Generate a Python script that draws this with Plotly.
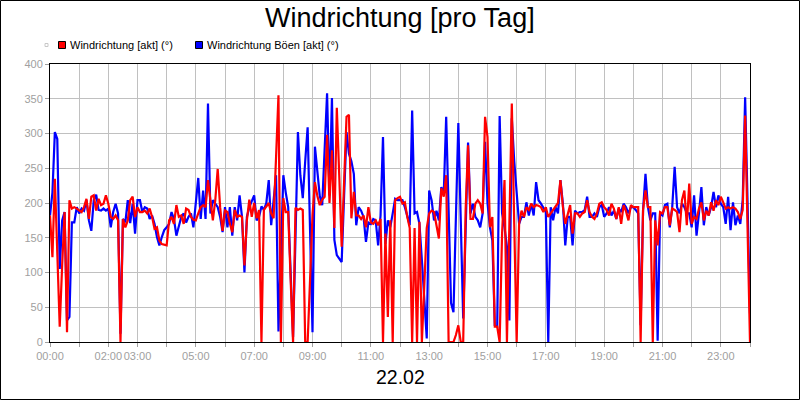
import plotly.graph_objects as go
import pandas as pd

# ---------------- data (5-minute values, 22.02 00:00 .. 24:00) ----------------
red_values = [
    182, 122, 235, 130, 22, 110, 187, 14, 204, 192, 194, 192,   # 00
    190, 187, 194, 206, 177, 209, 211, 189, 206, 197, 199, 211,  # 01
    199, 180, 177, 182, 175, 0, 177, 165, 175, 204, 209, 180,    # 02
    194, 187, 187, 189, 185, 192, 180, 163, 165, 146, 141, 140,  # 03
    139, 175, 180, 170, 197, 180, 182, 170, 192, 190, 180, 176,  # 04
    175, 185, 194, 197, 194, 233, 204, 175, 204, 249, 194, 160,  # 05
    189, 187, 170, 158, 190, 180, 182, 180, 110, 175, 205, 180,  # 06
    200, 178, 190, 0, 190, 195, 200, 185, 178, 265, 355, 0,      # 07
    207, 187, 187, 90, 0, 193, 190, 192, 190, 0, 0, 90,          # 08
    183, 230, 210, 197, 205, 209, 298, 200, 276, 164, 337, 240,  # 09
    137, 230, 324, 327, 178, 216, 182, 182, 177, 182, 165, 194,  # 10
    172, 170, 175, 168, 177, 0, 156, 36, 175, 0, 204, 207,       # 11
    209, 199, 201, 180, 164, 0, 164, 0, 173, 0, 90, 164,         # 12
    185, 189, 187, 170, 149, 221, 209, 240, 0, 0, 0, 10,         # 13
    24, 0, 0, 190, 283, 177, 177, 199, 204, 199, 185, 324,       # 14
    295, 165, 180, 22, 22, 0, 156, 233, 0, 170, 343, 170,        # 15
    0, 170, 189, 180, 194, 190, 199, 194, 197, 196, 194, 187,    # 16
    194, 180, 185, 190, 194, 200, 233, 195, 170, 185, 197, 156,  # 17
    185, 185, 180, 185, 187, 204, 187, 180, 177, 185, 199, 201,  # 18
    194, 190, 182, 199, 192, 177, 194, 170, 197, 188, 175, 197,  # 19
    194, 194, 194, 0, 190, 218, 194, 194, 0, 175, 139, 187,      # 20
    185, 194, 194, 168, 192, 190, 187, 158, 204, 218, 168, 228,  # 21
    170, 180, 177, 192, 201, 175, 189, 182, 201, 189, 204, 197,  # 22
    209, 201, 192, 194, 192, 194, 192, 187, 177, 190, 326, 163,  # 23
    0,
]

blue_values = [
    182, 215, 302, 292, 105, 175, 187, 31, 36, 172, 172, 194,    # 00
    185, 192, 189, 204, 175, 160, 204, 212, 190, 189, 192, 189,  # 01
    192, 165, 187, 199, 185, 12, 177, 172, 204, 171, 199, 156,   # 02
    204, 204, 187, 194, 192, 177, 182, 170, 151, 139, 151, 161,  # 03
    165, 170, 187, 177, 153, 168, 180, 185, 172, 180, 185, 165,  # 04
    200, 236, 177, 218, 177, 343, 185, 204, 199, 194, 180, 158,  # 05
    194, 165, 194, 153, 194, 175, 211, 180, 100, 180, 194, 204,  # 06
    211, 175, 180, 195, 190, 200, 233, 168, 200, 240, 15, 130,   # 07
    240, 215, 194, 100, 7, 150, 302, 240, 207, 260, 309, 160,    # 08
    14, 281, 240, 210, 197, 280, 358, 211, 351, 147, 125, 120,   # 09
    115, 210, 302, 271, 260, 242, 168, 194, 189, 180, 144, 172,  # 10
    170, 177, 175, 139, 182, 295, 141, 175, 165, 185, 206, 204,  # 11
    204, 204, 194, 180, 168, 333, 185, 187, 170, 118, 60, 5,     # 12
    218, 204, 175, 189, 175, 223, 213, 324, 190, 56, 43, 180,    # 13
    315, 175, 34, 160, 287, 185, 199, 180, 175, 165, 185, 288,   # 14
    200, 165, 146, 24, 22, 325, 185, 165, 137, 31, 322, 260,     # 15
    216, 170, 180, 180, 201, 182, 199, 182, 230, 204, 199, 192,  # 16
    187, 0, 194, 175, 194, 185, 233, 200, 139, 180, 180, 139,    # 17
    189, 185, 187, 187, 190, 209, 180, 180, 185, 180, 194, 197,  # 18
    180, 185, 194, 182, 189, 177, 192, 187, 199, 194, 185, 194,  # 19
    194, 190, 185, 24, 190, 242, 194, 175, 185, 185, 2, 185,     # 20
    182, 197, 199, 165, 194, 252, 194, 185, 199, 194, 185, 185,  # 21
    165, 211, 153, 185, 223, 168, 194, 182, 194, 216, 194, 211,  # 22
    199, 194, 170, 209, 161, 201, 168, 182, 170, 204, 352, 200,  # 23
    41,
]

tick_labels = ["00:00", "", "02:00", "03:00", "", "05:00", "", "07:00", "",
               "09:00", "", "11:00", "", "13:00", "", "15:00", "", "17:00", "",
               "19:00", "", "21:00", "", "23:00", ""]
y_ticks = [0, 50, 100, 150, 200, 250, 300, 350, 400]

series_names = ["Windrichtung [akt] (°)", "Windrichtung Böen [akt] (°)"]
title_text = "Windrichtung [pro Tag]"
date_text = "22.02"

# ---------------- figure ----------------
times = pd.date_range("2024-02-22 00:00", periods=len(red_values), freq="5min")
tick_vals = [times[0] + pd.Timedelta(hours=h) for h in range(len(tick_labels))]

FONT = "Liberation Sans, Arial, sans-serif"
W, H = 800, 400
L, R, T, B = 50, 50, 64, 58
PW, PH = W - L - R, H - T - B


def px(xp):
    return (xp - L) / PW


def py(yp):
    return (H - B - yp) / PH


fig = go.Figure()
fig.add_trace(go.Scatter(x=times, y=blue_values, mode="lines",
                         line=dict(color="#0000ff", width=2.2),
                         name=series_names[1], showlegend=False))
fig.add_trace(go.Scatter(x=times, y=red_values, mode="lines",
                         line=dict(color="#ff0000", width=2.2),
                         name=series_names[0], showlegend=False))

axis_common = dict(
    showgrid=True, gridcolor="#c0c0c0", gridwidth=1,
    showline=True, linecolor="#000000", linewidth=1, mirror=True,
    ticks="outside", ticklen=4, tickcolor="#a0a0a0",
    tickfont=dict(family=FONT, size=11, color="#a0a0a0"),
    zeroline=False, fixedrange=True, tickangle=0,
)

fig.update_layout(
    width=W, height=H,
    margin=dict(l=L, r=R, t=T, b=B, pad=0),
    paper_bgcolor="#ffffff", plot_bgcolor="#ffffff",
    showlegend=False,
    xaxis=dict(range=[times[0], times[-1]], tickmode="array",
               tickvals=tick_vals, ticktext=tick_labels, **axis_common),
    yaxis=dict(range=[0, 400], tickmode="array", tickvals=y_ticks,
               ticktext=[str(v) for v in y_ticks], **axis_common),
    font=dict(family=FONT),
)

shapes = [
    # outer frame
    dict(type="rect", xref="paper", yref="paper",
         x0=px(0.5), x1=px(799.5), y0=py(399.5), y1=py(0.5),
         line=dict(color="#000000", width=1), fillcolor="rgba(0,0,0,0)", layer="above"),
    # small grey legend marker
    dict(type="rect", xref="paper", yref="paper",
         x0=px(45), x1=px(48), y0=py(46.5), y1=py(43.5),
         line=dict(color="#c8c8c8", width=1), fillcolor="#ffffff"),
    # red legend box
    dict(type="rect", xref="paper", yref="paper",
         x0=px(58.5), x1=px(65.5), y0=py(48.5), y1=py(41.5),
         line=dict(color="#000000", width=1), fillcolor="#ff0000"),
    # blue legend box
    dict(type="rect", xref="paper", yref="paper",
         x0=px(195.5), x1=px(202.5), y0=py(48.5), y1=py(41.5),
         line=dict(color="#000000", width=1), fillcolor="#0000ff"),
]

annotations = [
    dict(text=title_text, xref="paper", yref="paper", x=px(400), y=py(18),
         xanchor="center", yanchor="middle", showarrow=False,
         font=dict(family=FONT, size=27, color="#000000")),
    dict(text=date_text, xref="paper", yref="paper", x=px(400), y=py(377),
         xanchor="center", yanchor="middle", showarrow=False,
         font=dict(family=FONT, size=19.5, color="#000000")),
    dict(text=series_names[0], xref="paper", yref="paper", x=px(67.5), y=py(45),
         xanchor="left", yanchor="middle", showarrow=False,
         font=dict(family=FONT, size=11, color="#000000")),
    dict(text=series_names[1], xref="paper", yref="paper", x=px(204.5), y=py(45),
         xanchor="left", yanchor="middle", showarrow=False,
         font=dict(family=FONT, size=11, color="#000000")),
]

fig.update_layout(shapes=shapes, annotations=annotations)
fig.write_html("out.html", config={"displayModeBar": False})
